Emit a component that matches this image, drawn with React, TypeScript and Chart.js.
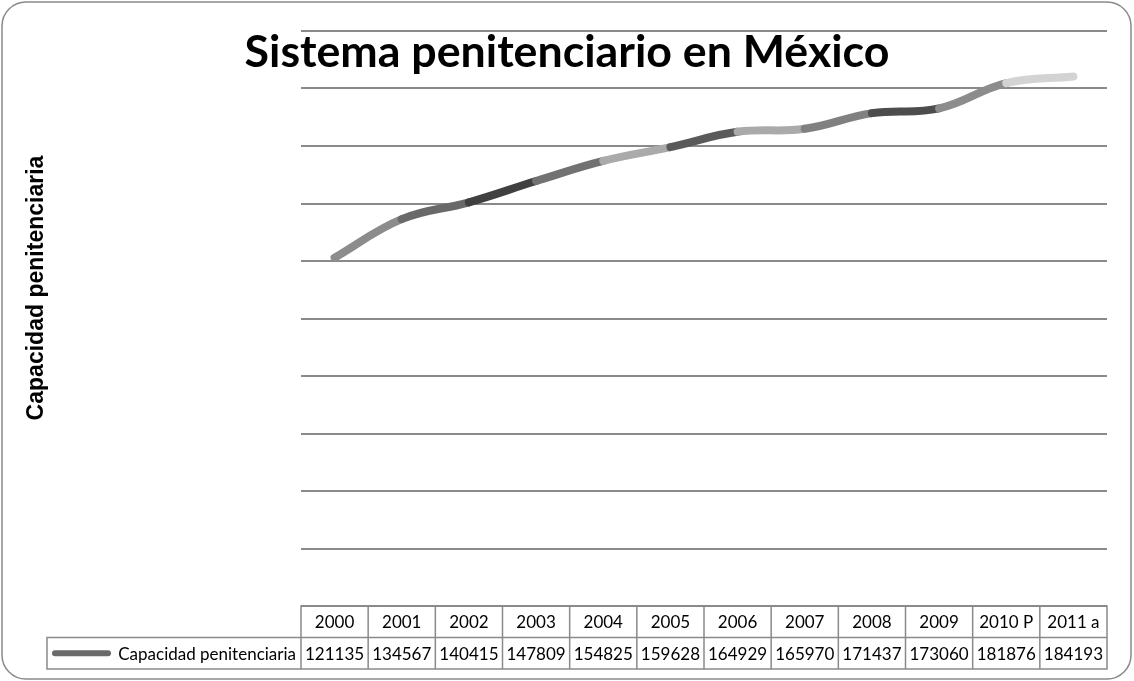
import React, { useEffect, useRef } from "react";
import { Chart, registerables } from "chart.js";

Chart.register(...registerables);

const categories = ["2000", "2001", "2002", "2003", "2004", "2005", "2006", "2007", "2008", "2009", "2010 P", "2011 a"];
const values = [121135, 134567, 140415, 147809, 154825, 159628, 164929, 165970, 171437, 173060, 181876, 184193];
const segmentColors = ["#8c8c8c", "#696969", "#404040", "#727272", "#aaaaaa", "#5a5a5a", "#aaaaaa", "#808080", "#4d4d4d", "#8c8c8c", "#d3d3d3"];
const yMin = 0;
const yMax = 200000;
const yStep = 20000;
const chartTitle = "Sistema penitenciario en México";
const seriesName = "Capacidad penitenciaria";
const axisTitle = "Capacidad penitenciaria";

const W = 1134;
const H = 681;
const GRAY = "#8a8a8a";

function fitFont(ctx: CanvasRenderingContext2D, text: string, family: string, weight: string, targetWidth: number): number {
  ctx.font = `${weight} 100px ${family}`;
  const w = ctx.measureText(text).width;
  return (100 * targetWidth) / w;
}

const decorPlugin = {
  id: "decor",
  afterDraw(chart: any) {
    const ctx: CanvasRenderingContext2D = chart.ctx;
    const area = chart.chartArea;
    const xs = chart.scales.x;
    const n = categories.length;
    const colW = area.width / n;
    ctx.save();

    // outer rounded border
    ctx.strokeStyle = GRAY;
    ctx.lineWidth = 1.5;
    ctx.beginPath();
    (ctx as any).roundRect(2, 2, W - 5, H - 4, 24);
    ctx.stroke();

    // title
    const tSize = fitFont(ctx, chartTitle, "Lato, 'Open Sans', sans-serif", "bold", 645);
    ctx.font = `bold ${tSize}px Lato, 'Open Sans', sans-serif`;
    ctx.fillStyle = "#000";
    ctx.textAlign = "center";
    ctx.textBaseline = "alphabetic";
    ctx.fillText(chartTitle, 567, 67);

    // y axis title
    const aSize = fitFont(ctx, axisTitle, "'Liberation Sans', Arial, sans-serif", "bold", 265);
    ctx.save();
    ctx.translate(37, 288);
    ctx.rotate(-Math.PI / 2);
    ctx.font = `bold ${aSize}px 'Liberation Sans', Arial, sans-serif`;
    ctx.textAlign = "center";
    ctx.textBaseline = "middle";
    ctx.fillText(axisTitle, 0, 0);
    ctx.restore();

    // data table
    const top = area.bottom;
    const rowH = 31.5;
    const legendLeft = 47;
    ctx.strokeStyle = GRAY;
    ctx.lineWidth = 1.5;
    ctx.beginPath();
    ctx.rect(area.left, top, area.width, rowH);
    ctx.rect(legendLeft, top + rowH, area.right - legendLeft, rowH);
    for (let i = 0; i <= n; i++) {
      const x = area.left + i * colW;
      ctx.moveTo(x, top);
      ctx.lineTo(x, top + 2 * rowH);
    }
    ctx.stroke();

    ctx.fillStyle = "#000";
    ctx.font = "17px Lato, 'Open Sans', sans-serif";
    ctx.textAlign = "center";
    ctx.textBaseline = "middle";
    for (let i = 0; i < n; i++) {
      const cx = xs.getPixelForValue(i);
      ctx.fillText(categories[i], cx, top + rowH / 2 + 1);
      ctx.fillText(String(values[i]), cx, top + rowH * 1.5 + 1);
    }
    ctx.textAlign = "right";
    ctx.fillText(seriesName, area.left - 5, top + rowH * 1.5 + 1);

    // legend key
    ctx.strokeStyle = "#6a6a6a";
    ctx.lineWidth = 6;
    ctx.lineCap = "round";
    ctx.beginPath();
    ctx.moveTo(55, top + rowH * 1.5);
    ctx.lineTo(108, top + rowH * 1.5);
    ctx.stroke();

    ctx.restore();
  },
};

export default function App() {
  const ref = useRef<HTMLCanvasElement | null>(null);

  useEffect(() => {
    document.body.style.margin = "0";
    const canvas = ref.current;
    if (!canvas) return;
    const chart = new Chart(canvas, {
      type: "line",
      data: {
        labels: categories,
        datasets: [
          {
            label: seriesName,
            data: values,
            borderWidth: 8,
            borderColor: "#6a6a6a",
            borderCapStyle: "round",
            borderJoinStyle: "round",
            tension: 0.4,
            pointRadius: 0,
            pointHoverRadius: 0,
            fill: false,
            segment: {
              borderColor: (c: any) => segmentColors[c.p0DataIndex],
            },
          } as any,
        ],
      },
      options: {
        responsive: false,
        animation: false,
        devicePixelRatio: 1,
        layout: { padding: { left: 301, right: 27, top: 31, bottom: 75 } },
        plugins: {
          legend: { display: false },
          title: { display: false },
          tooltip: { enabled: false },
        },
        scales: {
          x: {
            display: false,
            offset: true,
            grid: { display: false },
          },
          y: {
            display: true,
            min: yMin,
            max: yMax,
            ticks: { display: false, stepSize: yStep },
            border: { display: false },
            grid: { color: GRAY, lineWidth: 2, drawTicks: false },
          },
        },
      },
      plugins: [decorPlugin],
    });
    return () => chart.destroy();
  }, []);

  return (
    <div style={{ position: "absolute", left: 0, top: 0, width: W, height: H, background: "#fff" }}>
      <canvas ref={ref} width={W} height={H} />
    </div>
  );
}
